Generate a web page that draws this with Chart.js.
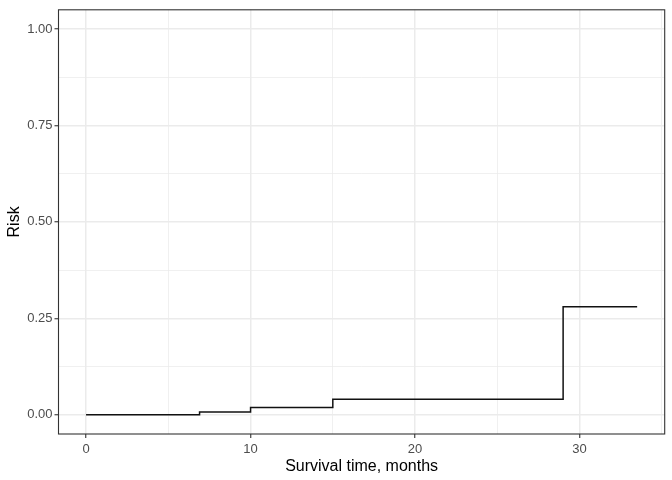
<!DOCTYPE html>
<html><head><meta charset="utf-8">
<script src="https://cdn.jsdelivr.net/npm/chart.js@4/dist/chart.umd.min.js"></script>
<style>html,body{margin:0;padding:0;background:#fff}#w{width:672px;height:480px}</style>
</head><body><div id="w"><canvas id="c"></canvas></div>
<script>
const stepTimes = [0, 6.9, 10, 15, 29, 33.5];
const riskValues = [0, 0.007, 0.019, 0.04, 0.28, 0.28];
const xTicks = [0, 5, 10, 15, 20, 25, 30, 35];
const xLabels = ["0", "", "10", "", "20", "", "30", ""];
const yTicks = [0, 0.125, 0.25, 0.375, 0.5, 0.625, 0.75, 0.875, 1];
const yLabels = ["0.00", "", "0.25", "", "0.50", "", "0.75", "", "1.00"];

const points = stepTimes.map((t, i) => ({x: t, y: riskValues[i]}));
const font = "'Liberation Sans', Arial, sans-serif";

const panelBorder = {
  id: 'panelBorder',
  afterDraw(chart) {
    const a = chart.chartArea, ctx = chart.ctx;
    ctx.save();
    ctx.strokeStyle = '#333333';
    ctx.lineWidth = 1.1;
    ctx.strokeRect(a.left, a.top, a.right - a.left, a.bottom - a.top);
    ctx.restore();
  }
};

new Chart(document.getElementById('c'), {
  type: 'scatter',
  data: { datasets: [{
    data: points, showLine: true, stepped: 'before',
    borderColor: '#111111', borderWidth: 1.5, pointRadius: 0, fill: false
  }]},
  plugins: [panelBorder],
  options: {
    responsive: true, maintainAspectRatio: false, animation: false,
    layout: { padding: { top: 7, right: 7.3, left: 0, bottom: 0 } },
    plugins: { legend: { display: false }, tooltip: { enabled: false } },
    scales: {
      x: {
        type: 'linear', min: -1.675, max: 35.175,
        afterBuildTicks: s => { s.ticks = xTicks.map(v => ({value: v})); },
        afterFit: s => { s.height = 46; },
        ticks: { autoSkip: false, maxRotation: 0, padding: 3.5,
          color: '#4D4D4D', font: { family: font, size: 13 },
          callback: (v, i) => xLabels[i] },
        grid: {
          color: '#EBEBEB',
          lineWidth: c => (c.index % 2 === 0 ? 1.5 : 0.75),
          tickLength: 4,
          tickColor: c => (c.index % 2 === 0 ? '#333333' : 'rgba(0,0,0,0)'),
          tickWidth: 1.1
        },
        border: { display: false },
        title: { display: true, text: 'Survival time, months', color: '#000',
          font: { family: font, size: 16 }, padding: { top: 0, bottom: 3.5 } }
      },
      y: {
        type: 'linear', min: -0.05, max: 1.05,
        afterBuildTicks: s => { s.ticks = yTicks.map(v => ({value: v})); },
        afterFit: s => { s.width = 58.5; },
        ticks: { autoSkip: false, padding: 2,
          color: '#4D4D4D', font: { family: font, size: 13 },
          callback: (v, i) => yLabels[i] },
        grid: {
          color: '#EBEBEB',
          lineWidth: c => (c.index % 2 === 0 ? 1.5 : 0.75),
          tickLength: 4,
          tickColor: c => (c.index % 2 === 0 ? '#333333' : 'rgba(0,0,0,0)'),
          tickWidth: 1.1
        },
        border: { display: false },
        title: { display: true, text: 'Risk', color: '#000',
          font: { family: font, size: 16 }, padding: { top: 5, bottom: 4 } }
      }
    }
  }
});
</script></body></html>
